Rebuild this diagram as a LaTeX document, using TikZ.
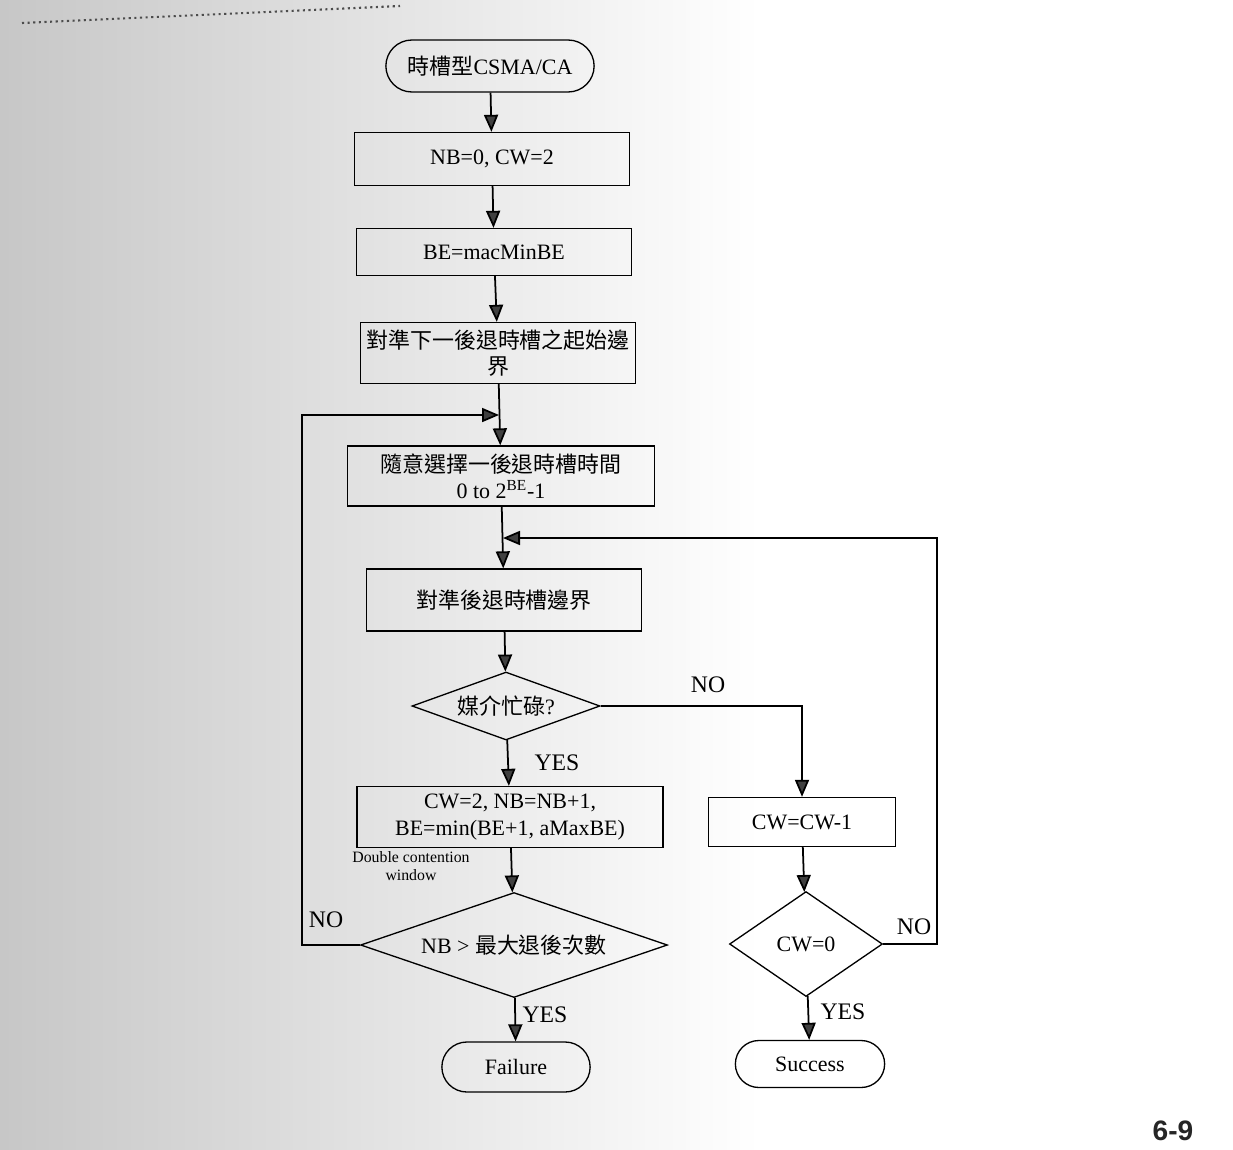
\documentclass[tikz,border=0pt]{standalone}
\usepackage{fontspec}
\setmainfont{Liberation Serif}
\newfontfamily\cjk{Noto Sans CJK TC}
\newfontfamily\pagefont{Liberation Sans}
\usetikzlibrary{arrows.meta,shapes.geometric,shapes.misc}

\begin{document}
\begin{tikzpicture}[x=0.02cm,y=-0.02cm,
  every node/.style={font=\fontsize{12.5}{15}\selectfont, align=center},
  procbox/.style={draw, line width=0.75pt, inner sep=2pt},
  term/.style={draw, line width=0.75pt, rounded rectangle},
  decide/.style={draw, line width=0.75pt, diamond, inner sep=0pt},
  flow/.style={line width=1pt, -{Triangle[length=0.34cm,width=0.28cm,fill=black!75]}},
  answer/.style={font=\fontsize{13.5}{15}\selectfont},
  small/.style={font=\fontsize{9}{10.5}\selectfont}
]
\useasboundingbox (0,0) rectangle (1233,1149);

% page tone
\shade[left color=black!22, right color=white] (0,0) rectangle (760,1149);
\fill[white] (760,0) rectangle (1233,1149);
\draw[black!70, line width=1.2pt, dash pattern=on 1.2pt off 2pt] (22,23) -- (400,6);

% main column
\node[term, minimum width=4.4cm, minimum height=1.04cm] (start) at (490,66) {{\cjk 時槽型}CSMA/CA};
\node[procbox, minimum width=5.5cm, minimum height=1.06cm] (init) at (492,159) {NB=0, CW=2};
\node[procbox, minimum width=5.5cm, minimum height=0.94cm] (beset) at (494,252) {BE=macMinBE};
\node[procbox, minimum width=5.5cm, minimum height=1.22cm] (align1) at (498,353) {{\cjk 對準下一後退時槽之起始邊}\\{\cjk 界}};
\node[procbox, minimum width=6.14cm, minimum height=1.2cm] (rand) at (501,476) {{\cjk 隨意選擇一後退時槽時間}\\0 to 2\textsuperscript{BE}-1};
\node[procbox, minimum width=5.5cm, minimum height=1.24cm] (align2) at (504,600) {\cjk 對準後退時槽邊界};
\node[decide, aspect=2.76, minimum width=3.76cm, minimum height=1.36cm] (busy) at (506,706) {{\cjk 媒介忙碌}?};
\node[procbox, minimum width=6.12cm, minimum height=1.22cm] (upd) at (510,817) {CW=2, NB=NB+1,\\BE=min(BE+1, aMaxBE)};
\node[small] (note) at (411,866) {Double contention\\window};
\node[decide, aspect=2.92, minimum width=6.14cm, minimum height=2.1cm] (maxq) at (514,945) {NB > {\cjk 最大退後次數}};
\node[term, minimum width=3.2cm, minimum height=1.0cm] (fail) at (516,1067) {Failure};

% right column
\node[procbox, minimum width=3.74cm, minimum height=0.98cm] (dec) at (802,822) {CW=CW-1};
\node[decide, aspect=1.46, minimum width=3.06cm, minimum height=2.1cm] (zero) at (806,944) {CW=0};
\node[term, minimum width=3.22cm, minimum height=0.94cm] (succ) at (810,1064) {Success};

% branch labels
\node[answer] (yesA) at (557,763) {YES};
\node[answer] (noA) at (708,685) {NO};
\node[answer] (yesB) at (545,1015) {YES};
\node[answer] (noB) at (326,920) {NO};
\node[answer] (yesC) at (843,1012) {YES};
\node[answer] (noC) at (914,927) {NO};

% junctions of the two loops
\coordinate (j1) at (499,415);
\coordinate (lcorner) at (302,415);
\coordinate (j2) at (503,538);
\coordinate (rcorner) at (937,538);

% connectors
\draw[flow] (start) -- (init);
\draw[flow] (init) -- (beset);
\draw[flow] (beset) -- (align1);
\draw[flow] (align1) -- (rand);
\draw[flow] (rand) -- (align2);
\draw[flow] (align2) -- (busy);
\draw[flow] (busy) -- (upd);
\draw[flow] (busy.east) -| (dec.north);
\draw[flow] (upd) -- (maxq);
\draw[flow] (maxq) -- (fail);
\draw[flow] (maxq.west) -| (lcorner) -- (j1);
\draw[flow] (dec) -- (zero);
\draw[flow] (zero) -- (succ);
\draw[flow] (zero.east) -| (rcorner) -- (j2);

% page number
\node[font=\pagefont\bfseries\fontsize{16}{18}\selectfont, text=black!85] (pnum) at (1173,1131) {6-9};
\end{tikzpicture}
\end{document}
